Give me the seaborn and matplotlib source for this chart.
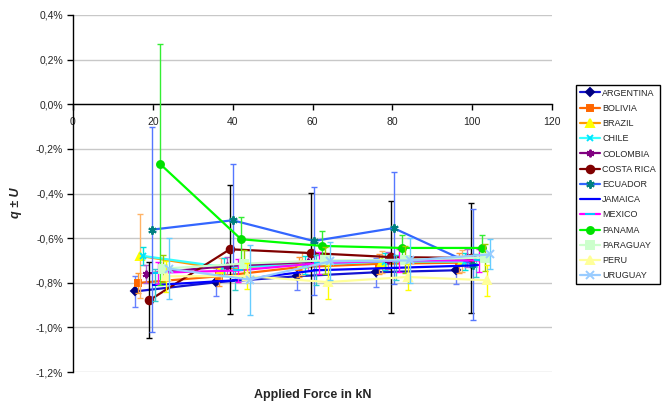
import matplotlib
matplotlib.use("Agg")
import matplotlib.pyplot as plt
import seaborn as sns
import pandas as pd
from matplotlib.ticker import FuncFormatter

# ---------------- data (q in %, U in %) ----------------
countries = ["ARGENTINA", "BOLIVIA", "BRAZIL", "CHILE", "COLOMBIA", "COSTA RICA",
             "ECUADOR", "JAMAICA", "MEXICO", "PANAMA", "PARAGUAY", "PERU", "URUGUAY"]

ARGENTINA_X = [15.5, 35.8, 56.0, 76.0, 96.0]
ARGENTINA_Q = [-0.839, -0.798, -0.771, -0.753, -0.744]
ARGENTINA_U = [0.068, 0.063, 0.063, 0.066, 0.063]

BOLIVIA_X = [16.2, 36.5, 56.7, 76.7, 96.7]
BOLIVIA_Q = [-0.801, -0.771, -0.730, -0.715, -0.710]
BOLIVIA_U = [0.045, 0.045, 0.045, 0.045, 0.045]

BRAZIL_X = [16.9, 37.2, 57.4, 77.4, 97.4]
BRAZIL_Q = [-0.680, -0.737, -0.714, -0.707, -0.704]
BRAZIL_U = [0.190, 0.050, 0.050, 0.050, 0.050]

CHILE_X = [17.6, 37.9, 58.1, 78.1, 98.1]
CHILE_Q = [-0.680, -0.730, -0.720, -0.705, -0.705]
CHILE_U = [0.040, 0.040, 0.040, 0.040, 0.040]

COLOMBIA_X = [18.3, 38.6, 58.8, 78.8, 98.8]
COLOMBIA_Q = [-0.759, -0.725, -0.707, -0.700, -0.690]
COLOMBIA_U = [0.040, 0.040, 0.040, 0.040, 0.040]

COSTA_RICA_X = [19.1, 39.3, 59.6, 79.6, 99.6]
COSTA_RICA_Q = [-0.879, -0.650, -0.667, -0.685, -0.689]
COSTA_RICA_U = [0.170, 0.290, 0.270, 0.250, 0.245]

ECUADOR_X = [19.8, 40.0, 60.3, 80.3, 100.3]
ECUADOR_Q = [-0.562, -0.520, -0.613, -0.555, -0.719]
ECUADOR_U = [0.460, 0.250, 0.240, 0.250, 0.250]

JAMAICA_X = [20.5, 40.7, 61.0, 81.0, 101.0]
JAMAICA_Q = [-0.810, -0.789, -0.744, -0.733, -0.722]
JAMAICA_U = [0.070, 0.045, 0.068, 0.056, 0.050]

MEXICO_X = [21.2, 41.4, 61.7, 81.7, 101.7]
MEXICO_Q = [-0.755, -0.745, -0.712, -0.700, -0.700]
MEXICO_U = [0.050, 0.050, 0.050, 0.050, 0.050]

PANAMA_X = [21.9, 42.1, 62.4, 82.4, 102.4]
PANAMA_Q = [-0.269, -0.605, -0.635, -0.644, -0.644]
PANAMA_U = [0.540, 0.100, 0.067, 0.060, 0.060]

PARAGUAY_X = [22.6, 42.9, 63.1, 83.1, 103.1]
PARAGUAY_Q = [-0.737, -0.714, -0.700, -0.697, -0.687]
PARAGUAY_U = [0.060, 0.060, 0.060, 0.060, 0.060]

PERU_X = [23.3, 43.6, 63.8, 83.8, 103.8]
PERU_Q = [-0.771, -0.770, -0.797, -0.774, -0.789]
PERU_U = [0.070, 0.060, 0.077, 0.060, 0.070]

URUGUAY_X = [24.0, 44.3, 64.5, 84.5, 104.5]
URUGUAY_Q = [-0.737, -0.786, -0.704, -0.700, -0.673]
URUGUAY_U = [0.136, 0.157, 0.085, 0.100, 0.067]

y_ticks = [-1.2, -1.0, -0.8, -0.6, -0.4, -0.2, 0.0, 0.2, 0.4]
x_ticks = [0, 20, 40, 60, 80, 100, 120]

series_x = [ARGENTINA_X, BOLIVIA_X, BRAZIL_X, CHILE_X, COLOMBIA_X, COSTA_RICA_X,
            ECUADOR_X, JAMAICA_X, MEXICO_X, PANAMA_X, PARAGUAY_X, PERU_X, URUGUAY_X]
series_q = [ARGENTINA_Q, BOLIVIA_Q, BRAZIL_Q, CHILE_Q, COLOMBIA_Q, COSTA_RICA_Q,
            ECUADOR_Q, JAMAICA_Q, MEXICO_Q, PANAMA_Q, PARAGUAY_Q, PERU_Q, URUGUAY_Q]
series_u = [ARGENTINA_U, BOLIVIA_U, BRAZIL_U, CHILE_U, COLOMBIA_U, COSTA_RICA_U,
            ECUADOR_U, JAMAICA_U, MEXICO_U, PANAMA_U, PARAGUAY_U, PERU_U, URUGUAY_U]

rows = []
for c, xs, qs, us in zip(countries, series_x, series_q, series_u):
    for x, q, u in zip(xs, qs, us):
        rows.append({"country": c, "force": x, "q": q, "u": u})
df = pd.DataFrame(rows)

# ---------------- styles ----------------
star = (6, 2, 0)
styles = {
    "ARGENTINA":  dict(line="#1414D2", marker="D", mfc="#000080", mec="#000080", ms=4.5, err="#6680FF"),
    "BOLIVIA":    dict(line="#FF6600", marker="s", mfc="#FF6600", mec="#FF6600", ms=5, err="#FF9933"),
    "BRAZIL":     dict(line="#FF9900", marker="^", mfc="#FFFF00", mec="#FFFF00", ms=5.5, err="#FFB366"),
    "CHILE":      dict(line="#33FFFF", marker="x", mfc="#00E5FF", mec="#00E5FF", ms=4.5, err="#00E0E0"),
    "COLOMBIA":   dict(line="#800080", marker=star, mfc="#800080", mec="#800080", ms=5.5, err="#B060D0"),
    "COSTA RICA": dict(line="#800000", marker="o", mfc="#800000", mec="#800000", ms=5.5, err="#000000"),
    "ECUADOR":    dict(line="#3366FF", marker=star, mfc="#008080", mec="#008080", ms=6, err="#5577FF"),
    "JAMAICA":    dict(line="#0000FF", marker="_", mfc="#0000FF", mec="#0000FF", ms=4.5, err="#33CCCC"),
    "MEXICO":     dict(line="#FF00FF", marker="_", mfc="#00CCFF", mec="#00CCFF", ms=6.5, err="#FF00FF"),
    "PANAMA":     dict(line="#00FF00", marker="o", mfc="#00E000", mec="#00E000", ms=5, err="#33EE33"),
    "PARAGUAY":   dict(line="#CCFFCC", marker="s", mfc="#CCFFCC", mec="#CCFFCC", ms=5.5, err="#99CC00"),
    "PERU":       dict(line="#FFFF99", marker="^", mfc="#FFFF99", mec="#FFFF99", ms=5.5, err="#FFFF00"),
    "URUGUAY":    dict(line="#99CCFF", marker="x", mfc="#99CCFF", mec="#99CCFF", ms=5.5, err="#66CCFF"),
}

sns.set_style("white")
plt.rcParams["font.family"] = ["Liberation Sans", "DejaVu Sans"]

fig = plt.figure(figsize=(6.66, 4.07), dpi=100)
ax = fig.add_axes([73 / 666, 1 - 372 / 407, (552 - 73) / 666, (372 - 15) / 407])

for i, c in enumerate(countries):
    d = df[df["country"] == c]
    s = styles[c]
    ax.errorbar(d["force"], d["q"], yerr=d["u"], fmt="none", ecolor=s["err"],
                elinewidth=1.0, capsize=2.5, capthick=1.0, zorder=3 + i * 0.1)
    sns.lineplot(data=d, x="force", y="q", ax=ax, color=s["line"], lw=1.6,
                 marker=s["marker"], markersize=s["ms"], markerfacecolor=s["mfc"],
                 markeredgecolor=s["mec"], markeredgewidth=1.4,
                 estimator=None, sort=False, label=c, legend=False, zorder=3.05 + i * 0.1)

ax.set_xlim(0, 120)
ax.set_ylim(-1.2, 0.4)
ax.set_xticks(x_ticks)
ax.set_yticks(y_ticks)
ax.yaxis.set_major_formatter(FuncFormatter(lambda v, p: f"{v:.1f}%".replace(".", ",")))
ax.set_xlabel("")
ax.set_ylabel("")

ax.grid(axis="y", color="#C8C8C8", lw=1)
ax.grid(axis="x", visible=False)
ax.set_axisbelow(True)

for sp in ["top", "right"]:
    ax.spines[sp].set_visible(False)
ax.spines["bottom"].set_position(("data", 0))
ax.spines["bottom"].set_color("black")
ax.spines["bottom"].set_linewidth(1)
ax.spines["left"].set_color("black")
ax.spines["left"].set_linewidth(1)

ax.tick_params(axis="x", direction="out", length=4, width=1, color="black",
               labelsize=7.5, pad=5, bottom=True)
ax.tick_params(axis="y", direction="out", length=4, width=1, color="black",
               labelsize=7.5, pad=3, left=True)

fig.text(313 / 666, 1 - 395 / 407, "Applied Force in kN", ha="center", va="center",
         fontsize=9, fontweight="bold")
fig.text(16 / 666, 1 - 203 / 407, "q ± U", ha="center", va="center", rotation=90,
         fontsize=9, fontweight="bold", fontstyle="italic")

handles = [ln for ln in ax.get_lines() if ln.get_label() in countries]
leg = fig.legend(handles, [h.get_label() for h in handles], loc="upper left",
                 bbox_to_anchor=(576 / 666, 1 - 85 / 407), bbox_transform=fig.transFigure,
                 fontsize=6.5, frameon=True, fancybox=False, framealpha=1,
                 edgecolor="black", borderpad=0.4, labelspacing=0.69,
                 handlelength=2.3, handletextpad=0.2, borderaxespad=0)
leg.get_frame().set_linewidth(1)

fig.savefig("out.png", dpi=100)
